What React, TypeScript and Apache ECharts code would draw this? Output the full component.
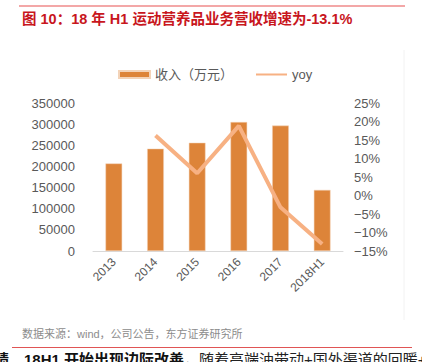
import React, { useEffect, useRef } from "react";
import * as echarts from "echarts";

const categories = ["2013", "2014", "2015", "2016", "2017", "2018H1"];
const revenue = [207000, 242000, 256000, 305000, 296500, 144500];
const yoy = [null, 16.2, 6.0, 18.8, -3.2, -13.1];
const leftTicks = { min: 0, max: 350000, interval: 50000 };
const rightTicks = { min: -15, max: 25, interval: 5 };

const titleText = "图 10：18 年 H1 运动营养品业务营收增速为-13.1%";
const sourceText = "数据来源：wind，公司公告，东方证券研究所";

export default function App() {
  const ref = useRef<HTMLDivElement>(null);
  useEffect(() => {
    if (!ref.current) return;
    const chart = echarts.init(ref.current, undefined, { renderer: "svg" });
    const font = "Arial, 'Liberation Sans', 'Noto Sans CJK SC', sans-serif";
    chart.setOption({
      animation: false,
      textStyle: { fontFamily: font },
      legend: {
        left: 113,
        top: 63,
        itemWidth: 31,
        itemHeight: 7,
        itemGap: 22,
        textStyle: { color: "#595959", fontSize: 13, fontFamily: font },
        data: [
          { name: "收入（万元）", icon: "rect" },
          { name: "yoy", itemStyle: { opacity: 0 } },
        ],
      },
      grid: { left: 93, right: 79, top: 103, bottom: 111 },
      xAxis: {
        type: "category",
        data: categories,
        axisLine: { lineStyle: { color: "#D9D9D9", width: 1 } },
        axisTick: { show: false },
        axisLabel: { rotate: 45, color: "#595959", fontSize: 12, margin: 9 },
      },
      yAxis: [
        {
          type: "value",
          ...leftTicks,
          axisLine: { show: false },
          axisTick: { show: false },
          splitLine: { show: false },
          axisLabel: {
            color: "#595959",
            fontSize: 13,
            margin: 18,
            formatter: (v: number) => String(v),
          },
        },
        {
          type: "value",
          ...rightTicks,
          axisLine: { show: false },
          axisTick: { show: false },
          splitLine: { show: false },
          axisLabel: {
            color: "#595959",
            fontSize: 13,
            margin: 11,
            formatter: (v: number) => (v < 0 ? "−" + Math.abs(v) + "%" : v + "%"),
          },
        },
      ],
      series: [
        {
          name: "收入（万元）",
          type: "bar",
          data: revenue,
          barWidth: "40%",
          itemStyle: { color: "#DD8439", borderColor: "#F3D3B8", borderWidth: 0.5 },
        },
        {
          name: "yoy",
          type: "line",
          yAxisIndex: 1,
          data: yoy,
          symbol: "none",
          lineStyle: { color: "#F7B183", width: 4 },
          itemStyle: { color: "#F7B183" },
        },
      ],
      graphic: [
        {
          type: "line",
          shape: { x1: 19, y1: 6, x2: 405, y2: 6 },
          style: { stroke: "#EF8A8A", lineWidth: 1.5 },
        },
        {
          type: "text",
          left: 22,
          top: 12,
          style: {
            text: titleText,
            fill: "#C8161D",
            font: "bold 14.5px " + font,
          },
        },
        {
          type: "line",
          shape: { x1: 404, y1: 50, x2: 404, y2: 320 },
          style: { stroke: "#F2F2F2", lineWidth: 1 },
        },
        {
          type: "text",
          left: 22,
          top: 328,
          style: {
            text: sourceText,
            fill: "#8C8C8C",
            font: "11px " + font,
          },
        },
        {
          type: "line",
          shape: { x1: 12, y1: 347.5, x2: 412, y2: 347.5 },
          style: { stroke: "#E05555", lineWidth: 1 },
        },
        {
          type: "text",
          left: -6,
          top: 352,
          style: {
            text: "{b|绩，18H1 开始出现边际改善}{n|，随着高端油带动+国外渠道的回暖+}",
            rich: {
              b: { font: "bold 15px " + font, fill: "#111111" },
              n: { font: "15px " + font, fill: "#222222" },
            },
          },
        },
      ],
    });
    return () => chart.dispose();
  }, []);
  return (
    <div
      ref={ref}
      style={{ position: "fixed", left: 0, top: 0, width: 422, height: 362, background: "#fff" }}
    />
  );
}
